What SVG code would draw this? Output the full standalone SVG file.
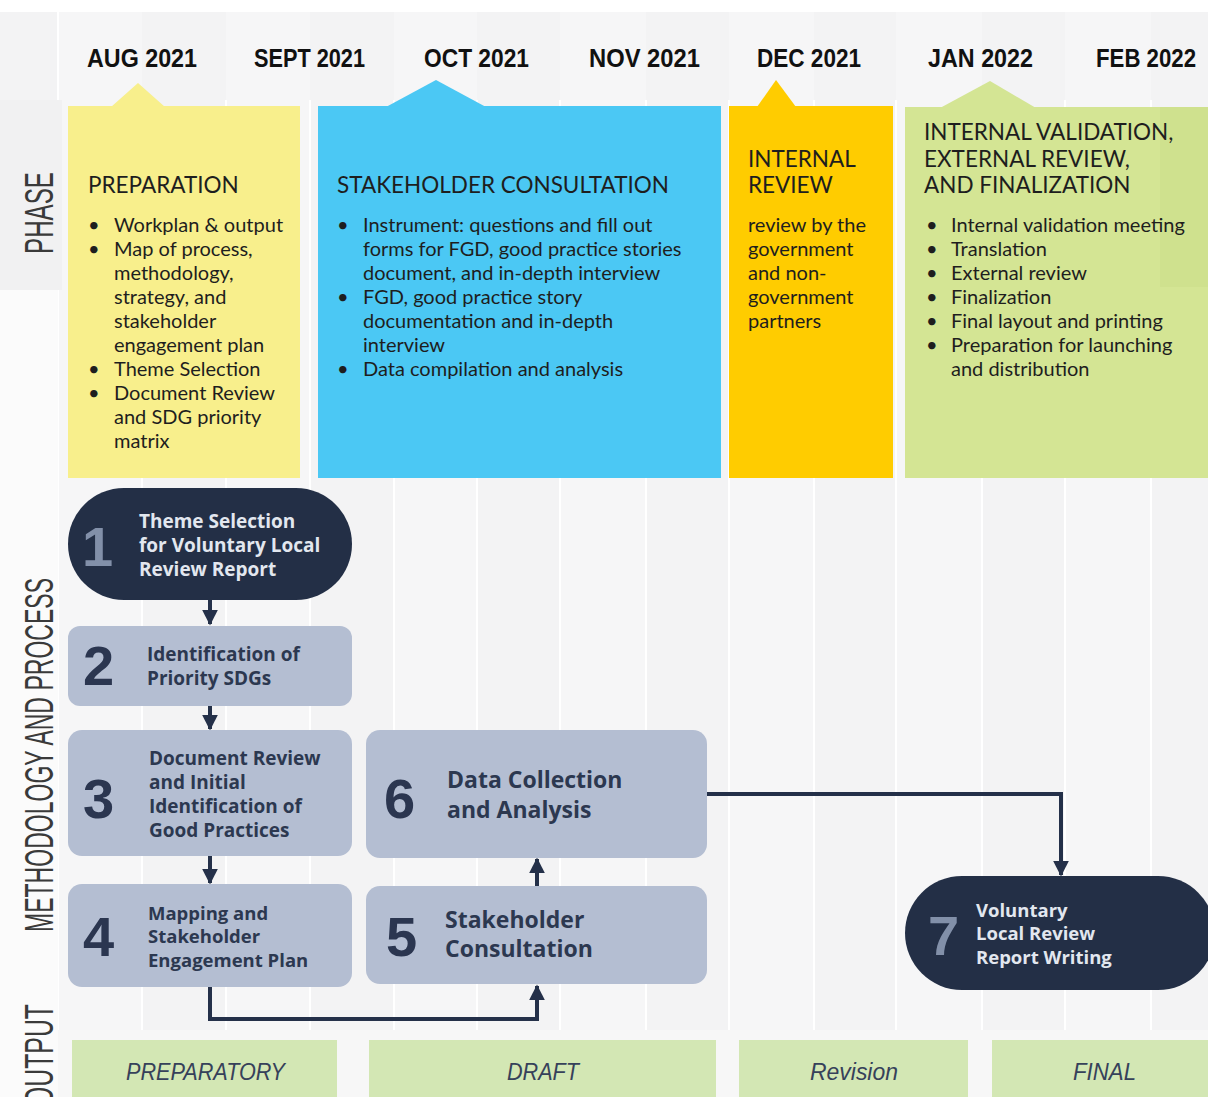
<svg xmlns="http://www.w3.org/2000/svg" width="1208" height="1097" viewBox="0 0 1208 1097">
<style>
.month{font-family:"Liberation Sans",Arial,sans-serif;font-weight:700;font-size:26px;fill:#111;}
.side{font-family:"Liberation Sans",Arial,sans-serif;font-size:40px;fill:#3a3a3a;}
.ptitle{font-family:Lato,"Liberation Sans",sans-serif;font-size:22.5px;fill:#1e1e1e;}
.pbody{font-family:Lato,"Liberation Sans",sans-serif;font-size:20px;fill:#1e1e1e;}
.num{font-family:"Liberation Sans",Arial,sans-serif;font-weight:700;font-size:56px;}
.numd{fill:#2b3650;}
.numl{fill:#8290a9;}
.nt{font-family:"Open Sans","Liberation Sans",sans-serif;font-weight:700;font-size:19px;}
.nts{font-size:18.5px;}
.ntb{font-size:23px;}
.ntd{fill:#2c3850;}
.ntl{fill:#e2e7ef;}
.light{fill:#b4bed2;}
.dark{fill:#232f46;}
.conn{fill:none;stroke:#243049;stroke-width:4;}
.out{fill:#d3e7b4;}
.outt{font-family:"Liberation Sans",Arial,sans-serif;font-style:italic;font-size:24px;fill:#36415a;}
.stripe{stroke:#ffffff;stroke-width:2;}
</style>
<defs>
<marker id="ah" viewBox="0 0 10 10" refX="9" refY="5" markerWidth="4" markerHeight="4" orient="auto" markerUnits="strokeWidth">
<path d="M0,0 L10,5 L0,10 z" fill="#243049"/>
</marker>
</defs>

<!-- background -->
<rect x="0" y="0" width="1208" height="1097" fill="#ffffff"/>
<rect x="0" y="12" width="1208" height="1028" fill="#f3f3f4"/>
<g id="columns">
<rect x="58" y="12" width="84" height="1028" fill="#f6f6f7"/>
<rect x="226" y="12" width="84" height="1028" fill="#f6f6f7"/>
<rect x="394" y="12" width="83" height="1028" fill="#f6f6f7"/>
<rect x="560" y="12" width="86" height="1028" fill="#f6f6f7"/>
<rect x="729" y="12" width="85" height="1028" fill="#f6f6f7"/>
<rect x="896" y="12" width="86" height="1028" fill="#f6f6f7"/>
<rect x="1065" y="12" width="86" height="1028" fill="#f6f6f7"/>
<g class="stripe">
<line x1="58" y1="12" x2="58" y2="1040"/>
<line x1="142" y1="100" x2="142" y2="1040"/>
<line x1="226" y1="100" x2="226" y2="1040"/>
<line x1="310" y1="100" x2="310" y2="1040"/>
<line x1="394" y1="100" x2="394" y2="1040"/>
<line x1="477" y1="100" x2="477" y2="1040"/>
<line x1="560" y1="100" x2="560" y2="1040"/>
<line x1="646" y1="100" x2="646" y2="1040"/>
<line x1="729" y1="100" x2="729" y2="1040"/>
<line x1="814" y1="100" x2="814" y2="1040"/>
<line x1="896" y1="100" x2="896" y2="1040"/>
<line x1="982" y1="100" x2="982" y2="1040"/>
<line x1="1065" y1="100" x2="1065" y2="1040"/>
<line x1="1151" y1="100" x2="1151" y2="1040"/>
</g>
<rect x="0" y="100" width="58" height="997" fill="#fbfbfb"/>
<rect x="0" y="100" width="62" height="190" fill="#f1f1f2"/>
<rect x="58" y="1030" width="1150" height="67" fill="#f7f7f7"/>
</g>

<!-- months -->
<g id="months">
<text class="month" x="87" y="67" textLength="110" lengthAdjust="spacingAndGlyphs">AUG 2021</text>
<text class="month" x="254" y="67" textLength="111" lengthAdjust="spacingAndGlyphs">SEPT 2021</text>
<text class="month" x="424" y="67" textLength="105" lengthAdjust="spacingAndGlyphs">OCT 2021</text>
<text class="month" x="589" y="67" textLength="111" lengthAdjust="spacingAndGlyphs">NOV 2021</text>
<text class="month" x="757" y="67" textLength="104" lengthAdjust="spacingAndGlyphs">DEC 2021</text>
<text class="month" x="928" y="67" textLength="105" lengthAdjust="spacingAndGlyphs">JAN 2022</text>
<text class="month" x="1096" y="67" textLength="100" lengthAdjust="spacingAndGlyphs">FEB 2022</text>
</g>

<!-- side labels -->
<g id="side-labels">
<text class="side" transform="translate(53,254) rotate(-90)" textLength="82" lengthAdjust="spacingAndGlyphs">PHASE</text>
<text class="side" transform="translate(53,932) rotate(-90)" textLength="354" lengthAdjust="spacingAndGlyphs">METHODOLOGY AND PROCESS</text>
<text class="side" transform="translate(53,1106) rotate(-90)" textLength="102" lengthAdjust="spacingAndGlyphs">OUTPUT</text>
</g>

<!-- phases -->
<g id="phase-preparation">
<polygon points="111,107 138,83 165,107" fill="#f8ef8c"/>
<rect x="68" y="106" width="232" height="372" fill="#f8ef8c"/>
<text class="ptitle" x="88" y="193">PREPARATION</text>
<g class="pbody">
<text x="88" y="232">•</text><text x="114" y="232">Workplan &amp; output</text>
<text x="88" y="256">•</text><text x="114" y="256">Map of process,</text>
<text x="114" y="280">methodology,</text>
<text x="114" y="304">strategy, and</text>
<text x="114" y="328">stakeholder</text>
<text x="114" y="352">engagement plan</text>
<text x="88" y="376">•</text><text x="114" y="376">Theme Selection</text>
<text x="88" y="400">•</text><text x="114" y="400">Document Review</text>
<text x="114" y="424">and SDG priority</text>
<text x="114" y="448">matrix</text>
</g>
</g>

<g id="phase-consultation">
<polygon points="386,107 436,80 486,107" fill="#4bc8f4"/>
<rect x="318" y="106" width="403" height="372" fill="#4bc8f4"/>
<text class="ptitle" x="337" y="193">STAKEHOLDER CONSULTATION</text>
<g class="pbody">
<text x="337" y="232">•</text><text x="363" y="232">Instrument: questions and fill out</text>
<text x="363" y="256">forms for FGD, good practice stories</text>
<text x="363" y="280">document, and in-depth interview</text>
<text x="337" y="304">•</text><text x="363" y="304">FGD, good practice story</text>
<text x="363" y="328">documentation and in-depth</text>
<text x="363" y="352">interview</text>
<text x="337" y="376">•</text><text x="363" y="376">Data compilation and analysis</text>
</g>
</g>

<g id="phase-internal-review">
<polygon points="757,107 776,80 796,107" fill="#ffcc00"/>
<rect x="729" y="106" width="164" height="372" fill="#ffcc00"/>
<text class="ptitle" x="748" y="167">INTERNAL</text>
<text class="ptitle" x="748" y="193">REVIEW</text>
<g class="pbody">
<text x="748" y="232">review by the</text>
<text x="748" y="256">government</text>
<text x="748" y="280">and non-</text>
<text x="748" y="304">government</text>
<text x="748" y="328">partners</text>
</g>
</g>

<g id="phase-finalization">
<polygon points="940,108 990,81 1036,108" fill="#d4e594"/>
<rect x="905" y="107" width="303" height="371" fill="#d4e594"/>
<rect x="1160" y="107" width="48" height="180" fill="#cde08c" opacity="0.8"/>
<text class="ptitle" x="924" y="140">INTERNAL VALIDATION,</text>
<text class="ptitle" x="924" y="167">EXTERNAL REVIEW,</text>
<text class="ptitle" x="924" y="193">AND FINALIZATION</text>
<g class="pbody">
<text x="926" y="232">•</text><text x="951" y="232">Internal validation meeting</text>
<text x="926" y="256">•</text><text x="951" y="256">Translation</text>
<text x="926" y="280">•</text><text x="951" y="280">External review</text>
<text x="926" y="304">•</text><text x="951" y="304">Finalization</text>
<text x="926" y="328">•</text><text x="951" y="328">Final layout and printing</text>
<text x="926" y="352">•</text><text x="951" y="352">Preparation for launching</text>
<text x="951" y="376">and distribution</text>
</g>
</g>

<!-- connectors -->
<g id="connectors">
<line class="conn" x1="210" y1="600" x2="210" y2="624" marker-end="url(#ah)"/>
<line class="conn" x1="210" y1="706" x2="210" y2="729" marker-end="url(#ah)"/>
<line class="conn" x1="210" y1="856" x2="210" y2="883" marker-end="url(#ah)"/>
<polyline class="conn" points="210,987 210,1019 537,1019 537,986" marker-end="url(#ah)"/>
<line class="conn" x1="537" y1="886" x2="537" y2="859" marker-end="url(#ah)"/>
<polyline class="conn" points="707,794 1061,794 1061,875" marker-end="url(#ah)"/>
</g>

<!-- nodes -->
<g id="node-1">
<rect class="dark" x="68" y="488" width="284" height="112" rx="56"/>
<text class="num numl" x="82" y="566">1</text>
<text class="nt ntl" x="139" y="528">Theme Selection</text>
<text class="nt ntl" x="139" y="552">for Voluntary Local</text>
<text class="nt ntl" x="139" y="576">Review Report</text>
</g>

<g id="node-2">
<rect class="light" x="68" y="626" width="284" height="80" rx="12"/>
<text class="num numd" x="83" y="685">2</text>
<text class="nt ntd" x="147" y="661">Identification of</text>
<text class="nt ntd" x="147" y="685">Priority SDGs</text>
</g>

<g id="node-3">
<rect class="light" x="68" y="730" width="284" height="126" rx="14"/>
<text class="num numd" x="83" y="818">3</text>
<text class="nt ntd" x="149" y="765">Document Review</text>
<text class="nt ntd" x="149" y="789">and Initial</text>
<text class="nt ntd" x="149" y="813">Identification of</text>
<text class="nt ntd" x="149" y="837">Good Practices</text>
</g>

<g id="node-4">
<rect class="light" x="68" y="884" width="284" height="103" rx="14"/>
<text class="num numd" x="83" y="956">4</text>
<text class="nt nts ntd" x="148" y="920">Mapping and</text>
<text class="nt nts ntd" x="148" y="943">Stakeholder</text>
<text class="nt nts ntd" x="148" y="967">Engagement Plan</text>
</g>

<g id="node-6">
<rect class="light" x="366" y="730" width="341" height="128" rx="14"/>
<text class="num numd" x="384" y="818">6</text>
<text class="nt ntb ntd" x="447" y="788">Data Collection</text>
<text class="nt ntb ntd" x="447" y="818">and Analysis</text>
</g>

<g id="node-5">
<rect class="light" x="366" y="886" width="341" height="98" rx="14"/>
<text class="num numd" x="386" y="956">5</text>
<text class="nt ntb ntd" x="445" y="928">Stakeholder</text>
<text class="nt ntb ntd" x="445" y="957">Consultation</text>
</g>

<g id="node-7">
<rect class="dark" x="905" y="876" width="310" height="114" rx="57"/>
<text class="num numl" x="928" y="955">7</text>
<text class="nt nts ntl" x="976" y="917">Voluntary</text>
<text class="nt nts ntl" x="976" y="940">Local Review</text>
<text class="nt nts ntl" x="976" y="964">Report Writing</text>
</g>

<!-- outputs -->
<g id="outputs">
<rect class="out" x="72" y="1040" width="265" height="57"/>
<rect class="out" x="369" y="1040" width="347" height="57"/>
<rect class="out" x="739" y="1040" width="229" height="57"/>
<rect class="out" x="992" y="1040" width="216" height="57"/>
<text class="outt" x="126" y="1080" textLength="159" lengthAdjust="spacingAndGlyphs">PREPARATORY</text>
<text class="outt" x="507" y="1080" textLength="72" lengthAdjust="spacingAndGlyphs">DRAFT</text>
<text class="outt" x="810" y="1080" textLength="88" lengthAdjust="spacingAndGlyphs">Revision</text>
<text class="outt" x="1073" y="1080" textLength="63" lengthAdjust="spacingAndGlyphs">FINAL</text>
</g>
</svg>
